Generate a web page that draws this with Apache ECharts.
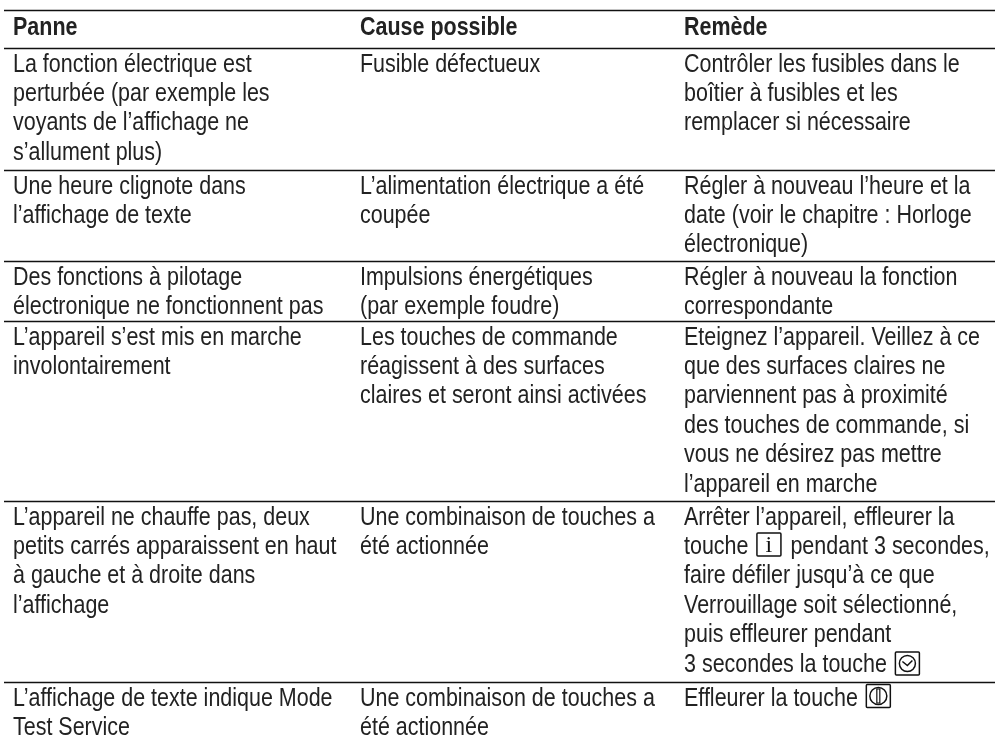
<!DOCTYPE html>
<html><head><meta charset="utf-8"><style>html,body{margin:0;padding:0;background:#fff}#c{width:995px;height:736px}</style>
<script src="https://cdn.jsdelivr.net/npm/echarts@6/dist/echarts.min.js"></script></head><body><div id="c"></div>
<script>
const headers = ["Panne", "Cause possible", "Remède"];
const colX = [13, 360, 684];
const ruleY = [10, 48, 170, 261, 321, 501, 682];
const headerBaseline = 35;
const col1 = [
 ["La fonction électrique est","perturbée (par exemple les","voyants de l’affichage ne","s’allument plus)"],
 ["Une heure clignote dans","l’affichage de texte"],
 ["Des fonctions à pilotage","électronique ne fonctionnent pas"],
 ["L’appareil s’est mis en marche","involontairement"],
 ["L’appareil ne chauffe pas, deux","petits carrés apparaissent en haut","à gauche et à droite dans","l’affichage"],
 ["L’affichage de texte indique Mode","Test Service"]];
const col2 = [
 ["Fusible défectueux"],
 ["L’alimentation électrique a été","coupée"],
 ["Impulsions énergétiques","(par exemple foudre)"],
 ["Les touches de commande","réagissent à des surfaces","claires et seront ainsi activées"],
 ["Une combinaison de touches a","été actionnée"],
 ["Une combinaison de touches a","été actionnée"]];
const col3 = [
 ["Contrôler les fusibles dans le","boîtier à fusibles et les","remplacer si nécessaire"],
 ["Régler à nouveau l’heure et la","date (voir le chapitre : Horloge","électronique)"],
 ["Régler à nouveau la fonction","correspondante"],
 ["Eteignez l’appareil. Veillez à ce","que des surfaces claires ne","parviennent pas à proximité","des touches de commande, si","vous ne désirez pas mettre","l’appareil en marche"],
 ["Arrêter l’appareil, effleurer la","touche {i} pendant 3 secondes,","faire défiler jusqu’à ce que","Verrouillage soit sélectionné,","puis effleurer pendant","3 secondes la touche {clock}"],
 ["Effleurer la touche {power}"]];
const FONT = '"Liberation Sans"', SIZE = 25.5, LH = 29.4, SX = 0.842, INK = '#222';
const columns = [col1, col2, col3];
const items = [];
headers.forEach((h,c)=>items.push({kind:'text',x:colX[c],y:headerBaseline,t:h,b:true}));
columns.forEach((col,c)=>col.forEach((lines,r)=>lines.forEach((t,i)=>{
  items.push({kind:'text',x:colX[c],y:ruleY[r+1]+24+i*LH,t:t});
})));
ruleY.forEach(y=>items.push({kind:'rule',y:y}));
const ctx=document.createElement('canvas').getContext('2d');
function w(t,b){ctx.font=(b?'bold ':'')+SIZE+'px '+FONT;return ctx.measureText(t).width*SX;}
function icon(kind,x0,y){
  const x=x0+2.5, top=y-21.5+(kind==='clock'?1.5:0), cx=x+12, cy=top+11.5;
  const line={fill:null,stroke:'#111',lineWidth:1.5};
  const s=[{type:'rect',shape:{x:x,y:top,width:24,height:23,r:1},style:line}];
  if(kind==='i') s.push({type:'text',style:{x:cx,y:cy+1,text:'i',font:'24px "Liberation Serif"',fill:'#111',align:'center',verticalAlign:'middle',lineHeight:24}});
  if(kind==='clock'){s.push({type:'circle',shape:{cx:cx,cy:cy,r:8},style:line});
    s.push({type:'polyline',shape:{points:[[cx-5,cy-2],[cx,cy+2],[cx+5,cy-3]]},style:line});}
  if(kind==='power'){s.push({type:'circle',shape:{cx:cx,cy:cy,r:8.5},style:line});
    s.push({type:'rect',shape:{x:cx-1.5,y:cy-7,width:3,height:14},style:{fill:null,stroke:'#111',lineWidth:1.2}});}
  return s;
}
function renderItem(params,api){
  const it=items[params.dataIndex];
  if(it.kind==='rule'){
    const a=api.coord([4,it.y]),b=api.coord([995,it.y]);
    return {type:'line',shape:{x1:a[0],y1:a[1]+.5,x2:b[0],y2:b[1]+.5},style:{stroke:'#111',lineWidth:1.5}};
  }
  const p=api.coord([it.x,it.y]);
  const children=[];let x=p[0];
  it.t.split(/(\{\w+\})/).forEach(seg=>{
    if(!seg)return;
    const m=seg.match(/^\{(\w+)\}$/);
    if(m){children.push(...icon(m[1],x,p[1]));x+=30;}
    else{
      children.push({type:'text',x:x,y:p[1]+0.21*SIZE,scaleX:SX,style:{x:0,y:0,text:seg,font:(it.b?'bold ':'')+SIZE+'px '+FONT,fill:INK,verticalAlign:'bottom',lineHeight:SIZE}});
      x+=w(seg,it.b);
    }
  });
  return {type:'group',children:children};
}
const chart=echarts.init(document.getElementById('c'),null,{renderer:'canvas'});
chart.setOption({animation:false,backgroundColor:'#fff',
 grid:{left:0,right:0,top:0,bottom:0},
 xAxis:{type:'value',min:0,max:995,show:false},
 yAxis:{type:'value',min:0,max:736,inverse:true,show:false},
 series:[{type:'custom',coordinateSystem:'cartesian2d',renderItem:renderItem,silent:true,clip:false,
   data:items.map((it,i)=>[it.x||0,it.y])}]
});
</script></body></html>
